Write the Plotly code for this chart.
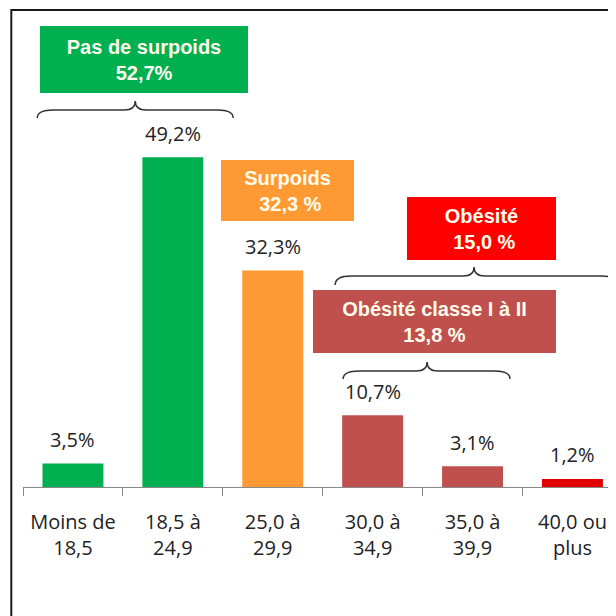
import plotly.graph_objects as go

# IMC categories and share of population (%)
categories = ["Moins de<br>18,5", "18,5 à<br>24,9", "25,0 à<br>29,9",
              "30,0 à<br>34,9", "35,0 à<br>39,9", "40,0 ou<br>plus"]
values = [3.5, 49.2, 32.3, 10.7, 3.1, 1.2]
bar_colors = ["#00B050", "#00B050", "#FF9933", "#C0504D", "#C0504D", "#E20000"]

# group boxes
group_texts = ["Pas de surpoids<br>52,7%", "Surpoids<br>\u00a032,3 %",
               "Obésité<br>\u00a015,0 %", "Obésité classe I à II<br>13,8 %"]
group_colors = ["#00B050", "#FF9933", "#FF0000", "#C0504D"]

# page has an 8px body margin, so the figure is drawn 8px smaller and shifted
OFF = 8
W, H = 608, 608
L, T, B = 14.7, 10, 129


def px(x):
    return (x - OFF - L) / (W - L)


def py(y):
    return (H - B - (y - OFF)) / (H - T - B)


def brace(x0, x1, xc, ytip, ymid, yend, r=16, rt=11):
    return (f"M {px(x0)},{py(yend)} Q {px(x0)},{py(ymid)} {px(x0 + r)},{py(ymid)} "
            f"L {px(xc - rt)},{py(ymid)} Q {px(xc)},{py(ymid)} {px(xc)},{py(ytip)} "
            f"Q {px(xc)},{py(ymid)} {px(xc + rt)},{py(ymid)} "
            f"L {px(x1 - r)},{py(ymid)} Q {px(x1)},{py(ymid)} {px(x1)},{py(yend)}")


fig = go.Figure(go.Bar(x=categories, y=values, marker_color=bar_colors,
                       marker_line_width=0, hoverinfo="skip"))

# data labels
for c, v in zip(categories, values):
    fig.add_annotation(x=c, y=v, text=f"{v:.1f}%".replace(".", ","), showarrow=False,
                       yanchor="middle", yshift=24,
                       font=dict(family="Open Sans", size=20, color="#222"))

# coloured boxes (reference pixels: center x, center y, width, height)
boxes = [(144, 59.5, 208, 67), (287, 190.5, 133, 61),
         (481.5, 228.5, 149, 63), (434.5, 321.5, 243, 63)]
for txt, col, (cx, cy, bw, bh) in zip(group_texts, group_colors, boxes):
    fig.add_annotation(xref="paper", yref="paper", x=px(cx), y=py(cy),
                       xanchor="center", yanchor="middle", text=txt, showarrow=False,
                       width=bw, height=bh, bgcolor=col, borderpad=0, borderwidth=0,
                       align="center",
                       font=dict(family="Liberation Sans", size=20, color="#FFFCEB",
                                 weight="bold"))

shapes = [
    dict(type="rect", xref="paper", yref="paper", x0=px(11), y0=py(640),
         x1=px(650), y1=py(10), line=dict(color="#1a1a1a", width=2)),
]
for x0, x1, xc, yt, ym, ye in [(37, 233, 135, 101, 110, 118),
                               (335, 618, 474, 267, 276, 285),
                               (343, 510, 427, 362, 371, 379)]:
    shapes.append(dict(type="path", xref="paper", yref="paper",
                       path=brace(x0, x1, xc, yt, ym, ye),
                       line=dict(color="#333", width=1.5)))

fig.update_layout(
    width=W, height=H,
    margin=dict(l=L, r=0, t=T, b=B),
    paper_bgcolor="white", plot_bgcolor="white",
    bargap=0.39, showlegend=False, shapes=shapes,
    xaxis=dict(type="category", range=[-0.5, 5.436], tickson="boundaries",
               ticks="outside", ticklen=8, tickcolor="#888", showline=True,
               linecolor="#888", linewidth=1, showgrid=False,
               ticklabelstandoff=17,
               tickfont=dict(family="Open Sans", size=20, color="#222")),
    yaxis=dict(range=[0, 70], visible=False, showgrid=False),
)

fig.write_html("out.html")
